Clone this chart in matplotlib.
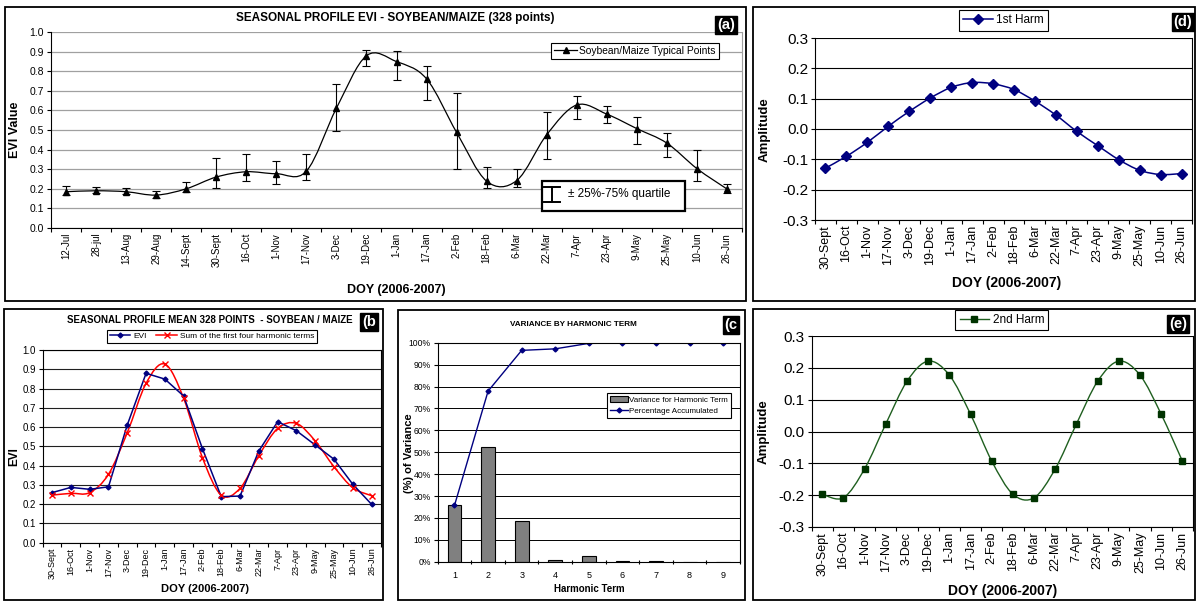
import numpy as np
import matplotlib
matplotlib.use('Agg')
import matplotlib.pyplot as plt
from matplotlib.path import Path
from matplotlib.patches import PathPatch, Rectangle
from matplotlib.lines import Line2D
from matplotlib.ticker import FixedLocator, PercentFormatter

plt.rcParams['font.family'] = ['Liberation Sans', 'DejaVu Sans']

# ---- data ----
doy_a = ['12-Jul', '28-jul', '13-Aug', '29-Aug', '14-Sept', '30-Sept', '16-Oct', '1-Nov',
         '17-Nov', '3-Dec', '19-Dec', '1-Jan', '17-Jan', '2-Feb', '18-Feb', '6-Mar',
         '22-Mar', '7-Apr', '23-Apr', '9-May', '25-May', '10-Jun', '26-Jun']
evi_a = [0.185, 0.19, 0.185, 0.168, 0.20, 0.26, 0.287, 0.277, 0.29, 0.611, 0.879, 0.849,
         0.761, 0.488, 0.239, 0.242, 0.476, 0.628, 0.581, 0.507, 0.433, 0.303, 0.199]
q25 = [0.17, 0.178, 0.175, 0.155, 0.185, 0.205, 0.24, 0.225, 0.245, 0.495, 0.825, 0.755,
       0.655, 0.30, 0.205, 0.21, 0.35, 0.558, 0.536, 0.43, 0.362, 0.238, 0.179]
q75 = [0.215, 0.21, 0.205, 0.187, 0.235, 0.355, 0.38, 0.34, 0.38, 0.735, 0.91, 0.905,
       0.825, 0.69, 0.31, 0.30, 0.59, 0.672, 0.621, 0.565, 0.485, 0.398, 0.226]

doy = ['30-Sept', '16-Oct', '1-Nov', '17-Nov', '3-Dec', '19-Dec', '1-Jan', '17-Jan', '2-Feb',
       '18-Feb', '6-Mar', '22-Mar', '7-Apr', '23-Apr', '9-May', '25-May', '10-Jun', '26-Jun']
evi_b = [0.26, 0.287, 0.277, 0.29, 0.611, 0.879, 0.849, 0.761, 0.488, 0.239, 0.242, 0.476,
         0.628, 0.581, 0.507, 0.433, 0.303, 0.199]
harm_sum = [0.247, 0.256, 0.26, 0.355, 0.571, 0.827, 0.927, 0.749, 0.441, 0.247, 0.282, 0.452,
            0.593, 0.619, 0.528, 0.394, 0.285, 0.244]
harm1 = [-0.129, -0.09, -0.044, 0.009, 0.058, 0.102, 0.137, 0.153, 0.149, 0.13, 0.092, 0.046,
         -0.008, -0.055, -0.101, -0.136, -0.15, -0.147]
harm2 = [-0.197, -0.208, -0.117, 0.024, 0.158, 0.221, 0.177, 0.054, -0.093, -0.197, -0.208,
         -0.117, 0.024, 0.158, 0.221, 0.177, 0.054, -0.093]

terms = [1, 2, 3, 4, 5, 6, 7, 8, 9]
var_term = [25.7, 52.2, 18.6, 0.7, 2.7, 0.1, 0.3, 0.05, 0.05]
var_cum = [25.7, 77.9, 96.5, 97.2, 99.7, 99.8, 100, 100, 100]

W, H = 1197, 601


def smooth_path(x, y):
    # excel-like smoothed line: catmull-rom segments as cubic beziers
    pts = np.column_stack([x, y]).astype(float)
    n = len(pts)
    verts = [pts[0]]
    codes = [Path.MOVETO]
    for i in range(n - 1):
        p0 = pts[i - 1] if i > 0 else pts[i]
        p1 = pts[i]
        p2 = pts[i + 1]
        p3 = pts[i + 2] if i + 2 < n else pts[i + 1]
        verts += [p1 + (p2 - p0) / 6.0, p2 - (p3 - p1) / 6.0, p2]
        codes += [Path.CURVE4] * 3
    return Path(verts, codes)


def px_axes(x0, y0, x1, y1):
    # plot area given in pixel coords of the original picture
    return fig.add_axes([x0 / W, 1 - y1 / H, (x1 - x0) / W, (y1 - y0) / H])


def panel_box(x0, y0, x1, y1):
    fig.add_artist(Rectangle((x0 / W, 1 - y1 / H), (x1 - x0) / W, (y1 - y0) / H,
                             transform=fig.transFigure, fill=False, lw=1.3, ec='black'))


def panel_tag(x, y, s):
    fig.text(x / W, 1 - y / H, s, color='white', fontsize=10.5, fontweight='bold',
             ha='center', va='center',
             bbox=dict(boxstyle='square,pad=0.12', fc='black', ec='black'))


def category_axis(ax, labels, size):
    n = len(labels)
    ax.set_xlim(-0.5, n - 0.5)
    ax.set_xticks(np.arange(n))
    ax.set_xticklabels(labels, rotation=90, fontsize=size)
    ax.xaxis.set_minor_locator(FixedLocator(np.arange(n + 1) - 0.5))
    ax.tick_params(axis='x', which='major', length=0, pad=3.5)
    ax.tick_params(axis='x', which='minor', length=3, direction='out', width=0.8)


def legend_frame(leg):
    fr = leg.get_frame()
    fr.set_edgecolor('black')
    fr.set_linewidth(0.8)
    fr.set_alpha(1)


fig = plt.figure(figsize=(W / 100, H / 100), dpi=100)

panel_box(5, 7, 746, 301)
panel_box(753, 7, 1195, 301)
panel_box(4, 309, 383, 600)
panel_box(398, 310, 745, 600)
panel_box(753, 309, 1195, 600)

# ---- (a) seasonal profile with quartiles ----
ax = px_axes(51, 32, 742, 228)
xa = np.arange(len(doy_a))
ea = np.array(evi_a)
err = [ea - np.array(q25), np.array(q75) - ea]
ax.errorbar(xa, ea, yerr=err, fmt='none', ecolor='black', elinewidth=0.8, capsize=3, capthick=0.8)
ax.add_patch(PathPatch(smooth_path(xa, ea), fill=False, ec='black', lw=0.9))
ax.plot(xa, ea, ls='none', marker='^', color='black', ms=5)
category_axis(ax, doy_a, 7)
ax.set_ylim(0, 1.0)
ax.set_yticks(np.arange(0, 1.01, 0.1))
ax.yaxis.set_major_formatter(matplotlib.ticker.FormatStrFormatter('%.1f'))
ax.tick_params(axis='y', labelsize=7.5, length=3, pad=2)
ax.grid(axis='y', color='#a0a0a0', lw=0.9)
ax.set_axisbelow(True)
ax.spines['top'].set_visible(False)
ax.spines['right'].set_color('#a0a0a0')
ax.set_ylabel('EVI Value', fontsize=9, fontweight='bold')
ax.yaxis.set_label_coords(-0.0434, 0.5)
ax.set_xlabel('DOY (2006-2007)', fontsize=9, fontweight='bold')
ax.xaxis.set_label_coords(0.5, -0.286)
ax.text(0.498, 1.071, 'SEASONAL PROFILE EVI - SOYBEAN/MAIZE (328 points)', transform=ax.transAxes,
        ha='center', va='center', fontsize=8.5, fontweight='bold')
h = Line2D([], [], color='black', lw=0.9, marker='^', ms=5)
leg = ax.legend([h], ['Soybean/Maize Typical Points'], loc='upper right',
                bbox_to_anchor=(0.966, 0.945), fontsize=7.4, fancybox=False,
                handlelength=2.2, borderpad=0.3, handletextpad=0.2, borderaxespad=0)
legend_frame(leg)
# quartile key
ax.add_patch(Rectangle((0.7106, 0.087), 0.207, 0.153, transform=ax.transAxes,
                       fill=True, fc='white', ec='black', lw=1.6, zorder=5))
ax.plot([0.7246, 0.7246], [0.134, 0.21], transform=ax.transAxes, color='black', lw=1.4, zorder=6)
ax.plot([0.713, 0.737], [0.21, 0.21], transform=ax.transAxes, color='black', lw=1.4, zorder=6)
ax.plot([0.713, 0.737], [0.134, 0.134], transform=ax.transAxes, color='black', lw=1.4, zorder=6)
ax.text(0.748, 0.172, '\u00b1 25%-75% quartile', transform=ax.transAxes, fontsize=8.5,
        ha='left', va='center', zorder=6)
panel_tag(726, 25, '(a)')

# ---- (d) first harmonic ----
ax = px_axes(815, 38, 1192, 220)
xd = np.arange(len(doy))
ax.add_patch(PathPatch(smooth_path(xd, harm1), fill=False, ec='#000080', lw=1.1))
ax.plot(xd, harm1, ls='none', marker='D', color='#000080', ms=5)
category_axis(ax, doy, 9)
ax.set_ylim(-0.3, 0.3)
ax.set_yticks(np.arange(-0.3, 0.31, 0.1))
ax.yaxis.set_major_formatter(matplotlib.ticker.FormatStrFormatter('%.1f'))
ax.tick_params(axis='y', labelsize=11, length=3, pad=2)
ax.grid(axis='y', color='black', lw=0.8)
ax.set_axisbelow(True)
ax.spines['top'].set_visible(False)
ax.set_ylabel('Amplitude', fontsize=9.5, fontweight='bold')
ax.yaxis.set_label_coords(-0.117, 0.494)
ax.set_xlabel('DOY (2006-2007)', fontsize=10, fontweight='bold')
ax.xaxis.set_label_coords(0.509, -0.307)
h = Line2D([], [], color='#000080', lw=1.1, marker='D', ms=5)
leg = ax.legend([h], ['1st Harm'], loc='upper center', bbox_to_anchor=(0.5, 1.152),
                fontsize=8.5, fancybox=False, handlelength=2.5, borderpad=0.35,
                handletextpad=0.3, borderaxespad=0)
legend_frame(leg)
panel_tag(1183, 22, '(d)')

# ---- (b) mean profile vs sum of harmonics ----
ax = px_axes(42.7, 350, 381, 542.7)
xb = np.arange(len(doy))
ax.plot(xb, evi_b, color='#000080', lw=1.1, marker='D', ms=2.5)
ax.add_patch(PathPatch(smooth_path(xb, harm_sum), fill=False, ec='red', lw=1.1))
ax.plot(xb, harm_sum, ls='none', marker='x', color='red', ms=5, mew=1)
category_axis(ax, doy, 6.5)
ax.set_ylim(0, 1.0)
ax.set_yticks(np.arange(0, 1.01, 0.1))
ax.yaxis.set_major_formatter(matplotlib.ticker.FormatStrFormatter('%.1f'))
ax.tick_params(axis='y', labelsize=7, length=3, pad=2)
ax.grid(axis='y', color='#202020', lw=0.8)
ax.set_axisbelow(True)
ax.set_ylabel('EVI', fontsize=8.5, fontweight='bold')
ax.yaxis.set_label_coords(-0.0656, 0.446)
ax.set_xlabel('DOY (2006-2007)', fontsize=8, fontweight='bold')
ax.xaxis.set_label_coords(0.48, -0.214)
ax.text(0.494, 1.156, 'SEASONAL PROFILE MEAN 328 POINTS  - SOYBEAN / MAIZE', transform=ax.transAxes,
        ha='center', va='center', fontsize=7, fontweight='bold')
h1 = Line2D([], [], color='#000080', lw=1.1, marker='D', ms=2.5)
h2 = Line2D([], [], color='red', lw=1.1, marker='x', ms=5)
leg = ax.legend([h1, h2], ['EVI', 'Sum of the first four harmonic terms'], loc='upper center',
                bbox_to_anchor=(0.5, 1.104), ncol=2, fontsize=6, fancybox=False,
                handlelength=2.5, borderpad=0.3, handletextpad=0.3, columnspacing=1.2,
                borderaxespad=0)
legend_frame(leg)
panel_tag(369, 322, '(b')

# ---- (c) variance by harmonic term ----
ax = px_axes(437.7, 342.7, 740, 561.7)
bars = ax.bar(terms, var_term, width=0.41, color='#808080', edgecolor='black', lw=0.8)
line, = ax.plot(terms, var_cum, color='#000080', lw=1, marker='D', ms=2.5)
ax.set_xlim(0.5, 9.5)
ax.set_xticks(terms)
ax.xaxis.set_minor_locator(FixedLocator(np.arange(0.5, 9.6, 1)))
ax.tick_params(axis='x', which='major', length=0, pad=7, labelsize=6.5)
ax.tick_params(axis='x', which='minor', length=3, direction='inout', width=0.8)
ax.set_ylim(0, 100)
ax.set_yticks(np.arange(0, 101, 10))
ax.yaxis.set_major_formatter(PercentFormatter(decimals=0))
ax.tick_params(axis='y', labelsize=6.2, length=3, pad=2)
ax.grid(axis='y', color='black', lw=0.7)
ax.set_axisbelow(True)
ax.set_ylabel('(%) of Variance', fontsize=8, fontweight='bold')
ax.yaxis.set_label_coords(-0.078, 0.496)
ax.set_xlabel('Harmonic Term', fontsize=7, fontweight='bold')
ax.xaxis.set_label_coords(0.5, -0.102)
ax.text(0.448, 1.081, 'VARIANCE BY HARMONIC TERM', transform=ax.transAxes,
        ha='center', va='center', fontsize=5.9, fontweight='bold')
leg = ax.legend([bars, line], ['Variance for Harmonic Term', 'Percentage Accumulated'],
                loc='upper right', bbox_to_anchor=(0.970, 0.770), fontsize=5.8, fancybox=False,
                handlelength=2.2, borderpad=0.35, handletextpad=0.2, borderaxespad=0,
                labelspacing=0.5)
legend_frame(leg)
panel_tag(731, 325, '(c')

# ---- (e) second harmonic ----
ax = px_axes(811.7, 336, 1193, 527)
xe = np.arange(len(doy))
ax.add_patch(PathPatch(smooth_path(xe, harm2), fill=False, ec='#1f5f1f', lw=1.0))
ax.plot(xe, harm2, ls='none', marker='s', color='#003300', ms=5)
category_axis(ax, doy, 9)
ax.set_ylim(-0.3, 0.3)
ax.set_yticks(np.arange(-0.3, 0.31, 0.1))
ax.yaxis.set_major_formatter(matplotlib.ticker.FormatStrFormatter('%.1f'))
ax.tick_params(axis='y', labelsize=11, length=3, pad=2)
ax.grid(axis='y', color='black', lw=0.8)
ax.set_axisbelow(True)
ax.spines['top'].set_visible(False)
ax.set_ylabel('Amplitude', fontsize=9.5, fontweight='bold')
ax.yaxis.set_label_coords(-0.111, 0.5)
ax.set_xlabel('DOY (2006-2007)', fontsize=10, fontweight='bold')
ax.xaxis.set_label_coords(0.502, -0.298)
h = Line2D([], [], color='#1f5f1f', lw=1.0, marker='s', ms=5, mfc='#003300', mec='#003300')
leg = ax.legend([h], ['2nd Harm'], loc='upper center', bbox_to_anchor=(0.499, 1.136),
                fontsize=8.5, fancybox=False, handlelength=2.5, borderpad=0.35,
                handletextpad=0.3, borderaxespad=0)
legend_frame(leg)
panel_tag(1178, 324, '(e)')

fig.savefig('out.png', dpi=100)
